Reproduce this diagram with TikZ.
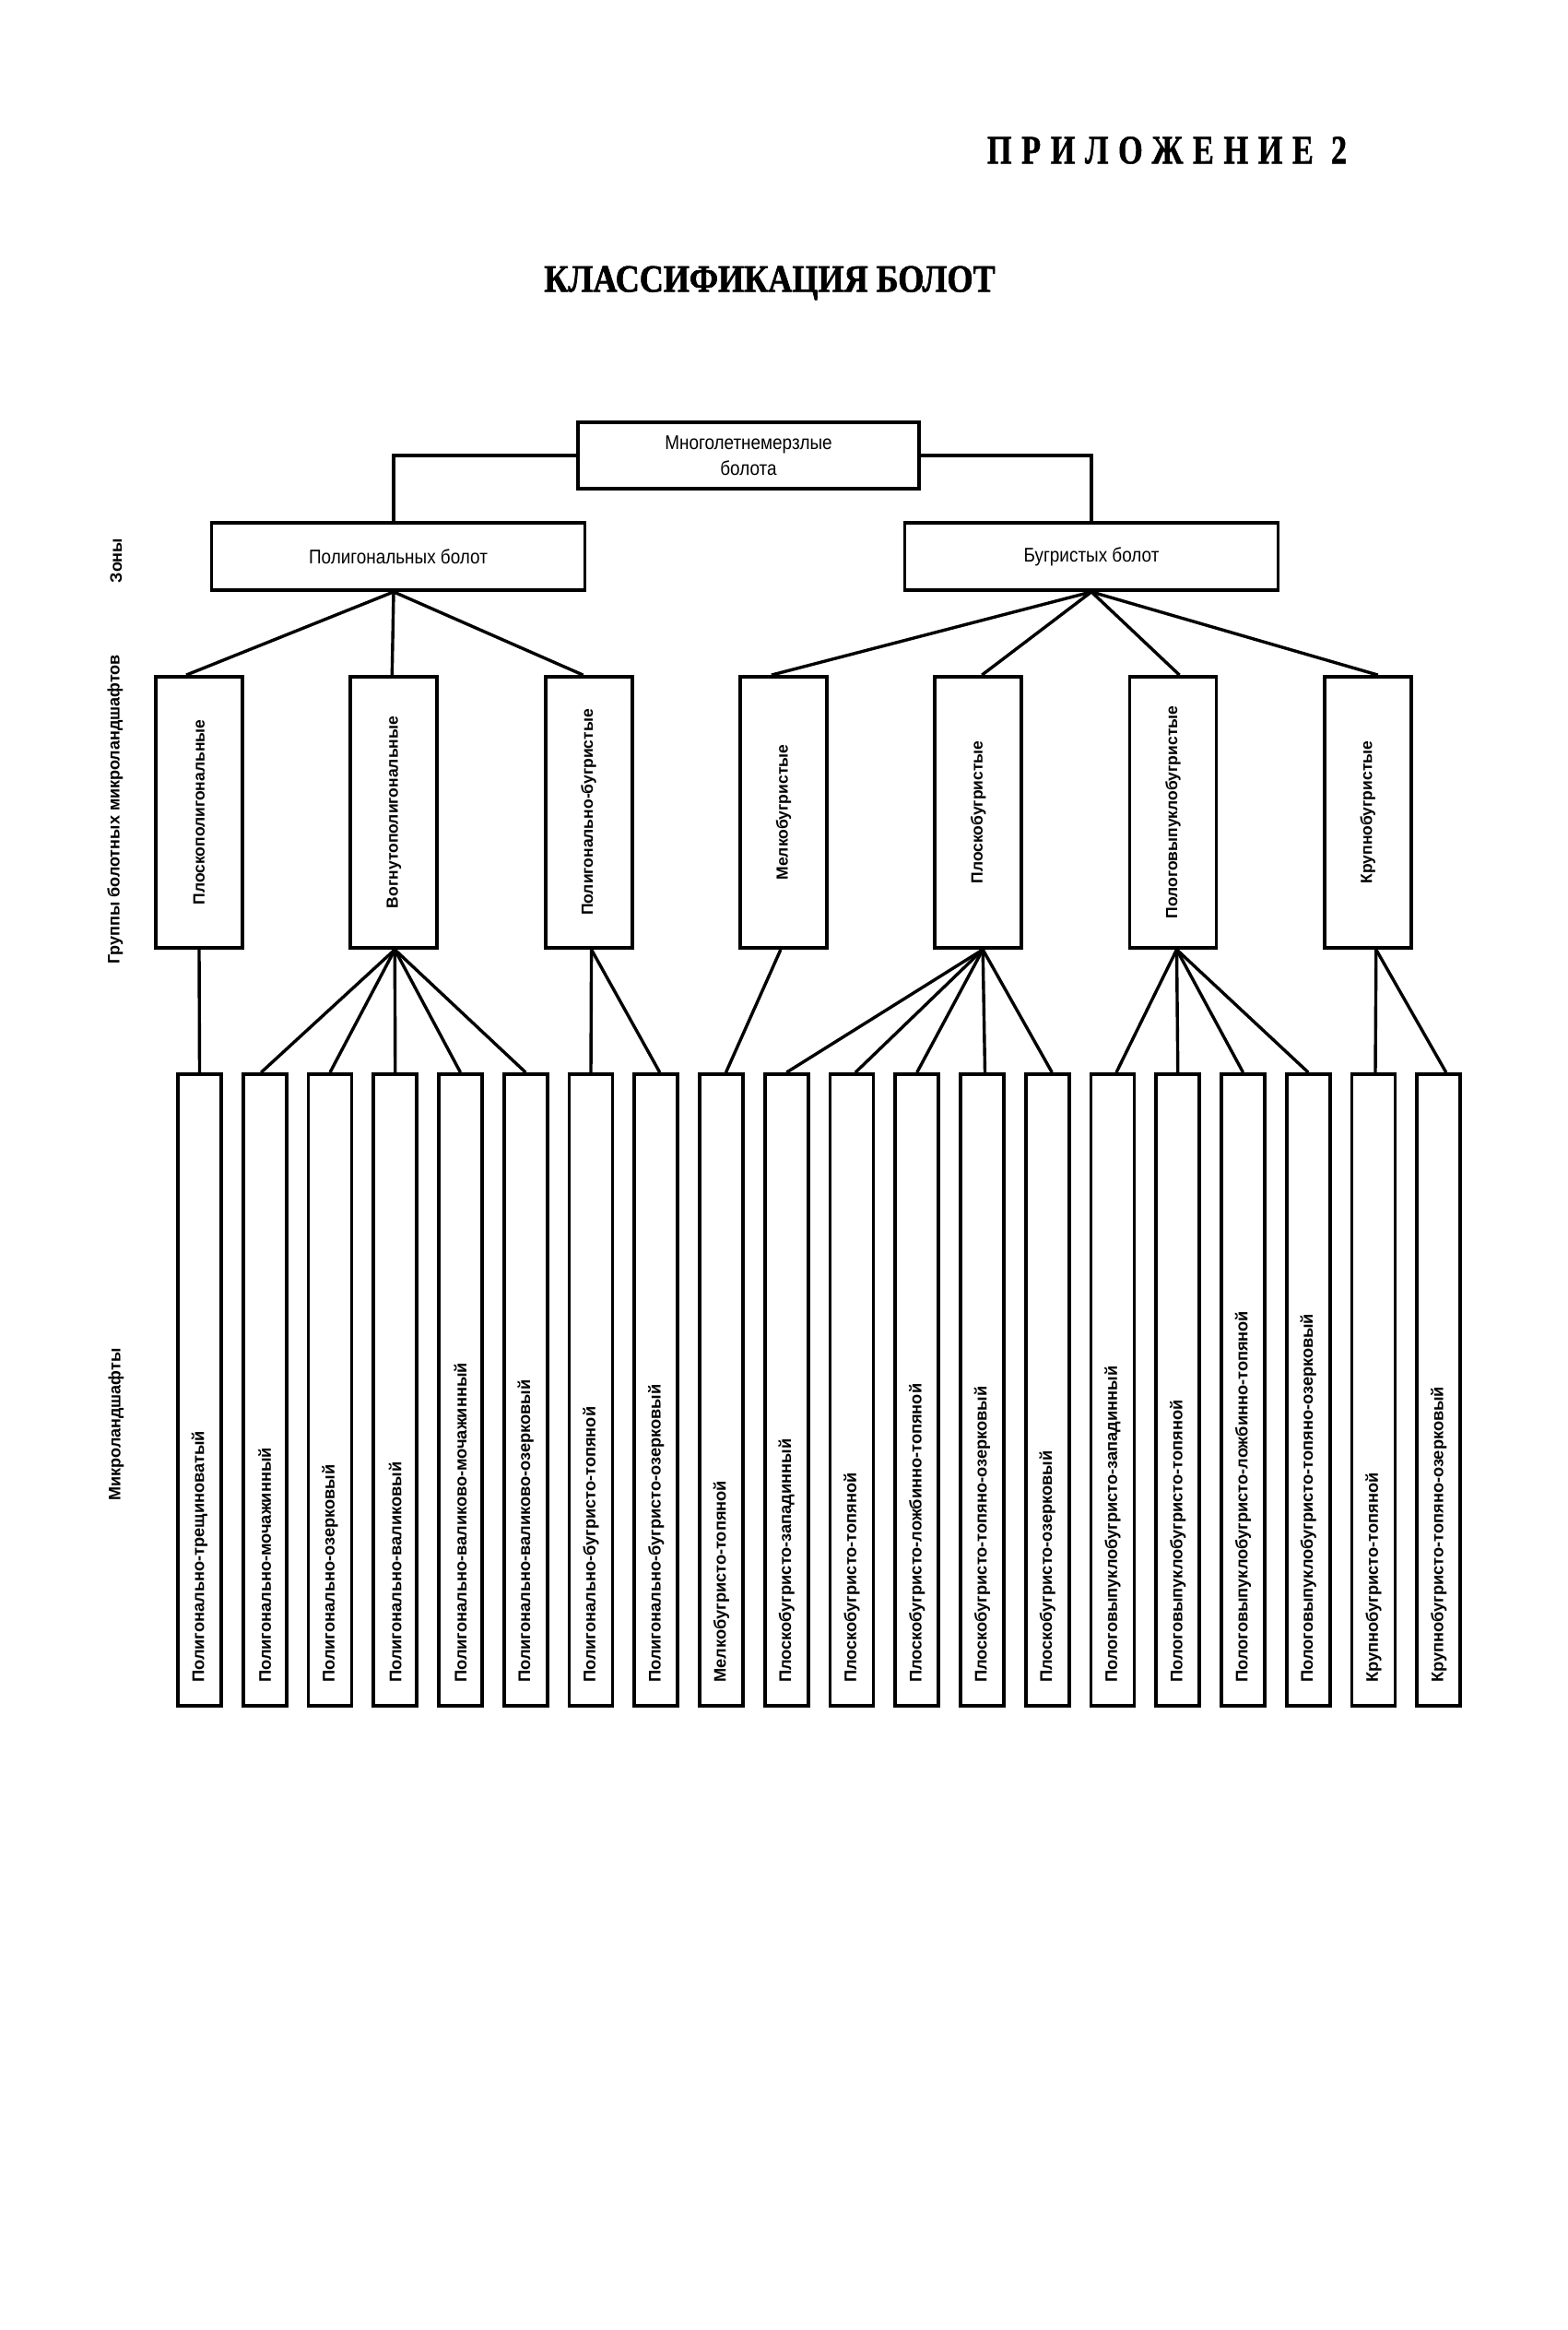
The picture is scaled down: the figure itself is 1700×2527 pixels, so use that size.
\documentclass[tikz,border=0pt]{standalone}
\usepackage{fontspec}
\usepackage{graphicx}
\setmainfont{Liberation Sans}
\newfontfamily\narrowsans[FakeStretch=0.88]{Liberation Sans}
\newfontfamily\headserif[FakeStretch=0.86,FakeBold=1.5]{Liberation Serif}
\newfontfamily\appserif[FakeStretch=0.78,LetterSpace=24,FakeBold=1]{Liberation Serif}
\usetikzlibrary{calc}
\newcommand\leaflabel[1]{\rotatebox{90}{\makebox[634pt][l]{#1}}}
\newcommand\grplabel[1]{\rotatebox{90}{#1}}
\tikzset{
  bx/.style={draw, line width=3.8pt, inner sep=0pt},
  topbx/.style={bx, minimum width=370pt, minimum height=72pt, align=center,
    font=\narrowsans\fontsize{21.5}{28}\selectfont},
  zonebx/.style={bx, minimum width=405pt, minimum height=73pt,
    font=\narrowsans\fontsize{21.5}{26}\selectfont},
  grpbx/.style={bx, minimum width=94pt, minimum height=294pt,
    font=\bfseries\fontsize{17.5}{20}\selectfont},
  leafbx/.style={bx, minimum width=47pt, minimum height=685pt,
    font=\bfseries\fontsize{18.2}{20}\selectfont},
  sidelbl/.style={font=\bfseries\fontsize{18}{20}\selectfont, rotate=90, inner sep=0pt},
  conn/.style={line width=3.4pt},
}
\begin{document}
\begin{tikzpicture}[x=1pt, y=-1pt]
\fill[white] (0,0) rectangle (1700,2527);
\useasboundingbox (0,0) rectangle (1700,2527);

% titles
\node[font=\appserif\bfseries\fontsize{44}{48}\selectfont] (app) at (1266,163) {ПРИЛОЖЕНИЕ 2};
\node[font=\headserif\bfseries\fontsize{42}{46}\selectfont] (ttl) at (835,307) {КЛАССИФИКАЦИЯ БОЛОТ};

% side labels
\node[sidelbl] (s1) at (126,608) {Зоны};
\node[sidelbl] (s2) at (125,878) {Группы болотных микроландшафтов};
\node[sidelbl] (s3) at (126,1545) {Микроландшафты};

% top and zones
\node[topbx] (T) at (812,494) {Многолетнемерзлые\\болота};
\node[zonebx] (Z1) at (432,603.5) {Полигональных болот};
\node[zonebx] (Z2) at (1184,603.5) {Бугристых болот};

% groups
\node[grpbx] (G1) at (216,881) {\grplabel{Плоскополигональные}};
\node[grpbx] (G2) at (427.3,881) {\grplabel{Вогнутополигональные}};
\node[grpbx] (G3) at (638.6,881) {\grplabel{Полигонально-бугристые}};
\node[grpbx] (G4) at (849.9,881) {\grplabel{Мелкобугристые}};
\node[grpbx] (G5) at (1061.2,881) {\grplabel{Плоскобугристые}};
\node[grpbx] (G6) at (1272.5,881) {\grplabel{Пологовыпуклобугристые}};
\node[grpbx] (G7) at (1483.8,881) {\grplabel{Крупнобугристые}};

% leaves
\foreach \i/\t in {
  1/Полигонально-трещиноватый,
  2/Полигонально-мочажинный,
  3/Полигонально-озерковый,
  4/Полигонально-валиковый,
  5/Полигонально-валиково-мочажинный,
  6/Полигонально-валиково-озерковый,
  7/Полигонально-бугристо-топяной,
  8/Полигонально-бугристо-озерковый,
  9/Мелкобугристо-топяной,
  10/Плоскобугристо-западинный,
  11/Плоскобугристо-топяной,
  12/Плоскобугристо-ложбинно-топяной,
  13/Плоскобугристо-топяно-озерковый,
  14/Плоскобугристо-озерковый,
  15/Пологовыпуклобугристо-западинный,
  16/Пологовыпуклобугристо-топяной,
  17/Пологовыпуклобугристо-ложбинно-топяной,
  18/Пологовыпуклобугристо-топяно-озерковый,
  19/Крупнобугристо-топяной,
  20/Крупнобугристо-топяно-озерковый}{
  \node[leafbx] (L\i) at ({216.5+70.75*(\i-1)},1507.5) {\leaflabel{\t}};
}

% top connectors
\draw[conn] (T.west) -| ([xshift=-5pt]Z1.north);
\draw[conn] (T.east) -| (Z2.north);

% zone -> group
\draw[conn] ([xshift=-5pt]Z1.south) -- ([xshift=-14pt]G1.north);
\draw[conn] ([xshift=-5pt]Z1.south) -- ([xshift=-2pt]G2.north);
\draw[conn] ([xshift=-5pt]Z1.south) -- ([xshift=-6pt]G3.north);
\draw[conn] (Z2.south) -- ([xshift=-13pt]G4.north);
\draw[conn] (Z2.south) -- ([xshift=4pt]G5.north);
\draw[conn] (Z2.south) -- ([xshift=7pt]G6.north);
\draw[conn] (Z2.south) -- ([xshift=11pt]G7.north);

% group -> leaf
\draw[conn] (G1.south) -- (L1.north);
\draw[conn] ([xshift=1pt]G2.south) -- ([xshift=-4pt]L2.north);
\draw[conn] ([xshift=1pt]G2.south) -- (L3.north);
\draw[conn] ([xshift=1pt]G2.south) -- (L4.north);
\draw[conn] ([xshift=1pt]G2.south) -- (L5.north);
\draw[conn] ([xshift=1pt]G2.south) -- (L6.north);
\draw[conn] ([xshift=3pt]G3.south) -- (L7.north);
\draw[conn] ([xshift=3pt]G3.south) -- ([xshift=4pt]L8.north);
\draw[conn] ([xshift=-3pt]G4.south) -- ([xshift=5pt]L9.north);
\draw[conn] ([xshift=5pt]G5.south) -- (L10.north);
\draw[conn] ([xshift=5pt]G5.south) -- ([xshift=4pt]L11.north);
\draw[conn] ([xshift=5pt]G5.south) -- (L12.north);
\draw[conn] ([xshift=5pt]G5.south) -- ([xshift=3pt]L13.north);
\draw[conn] ([xshift=5pt]G5.south) -- ([xshift=5pt]L14.north);
\draw[conn] ([xshift=4pt]G6.south) -- ([xshift=4pt]L15.north);
\draw[conn] ([xshift=4pt]G6.south) -- (L16.north);
\draw[conn] ([xshift=4pt]G6.south) -- (L17.north);
\draw[conn] ([xshift=4pt]G6.south) -- (L18.north);
\draw[conn] ([xshift=9pt]G7.south) -- ([xshift=2pt]L19.north);
\draw[conn] ([xshift=9pt]G7.south) -- ([xshift=8pt]L20.north);
\end{tikzpicture}
\end{document}
